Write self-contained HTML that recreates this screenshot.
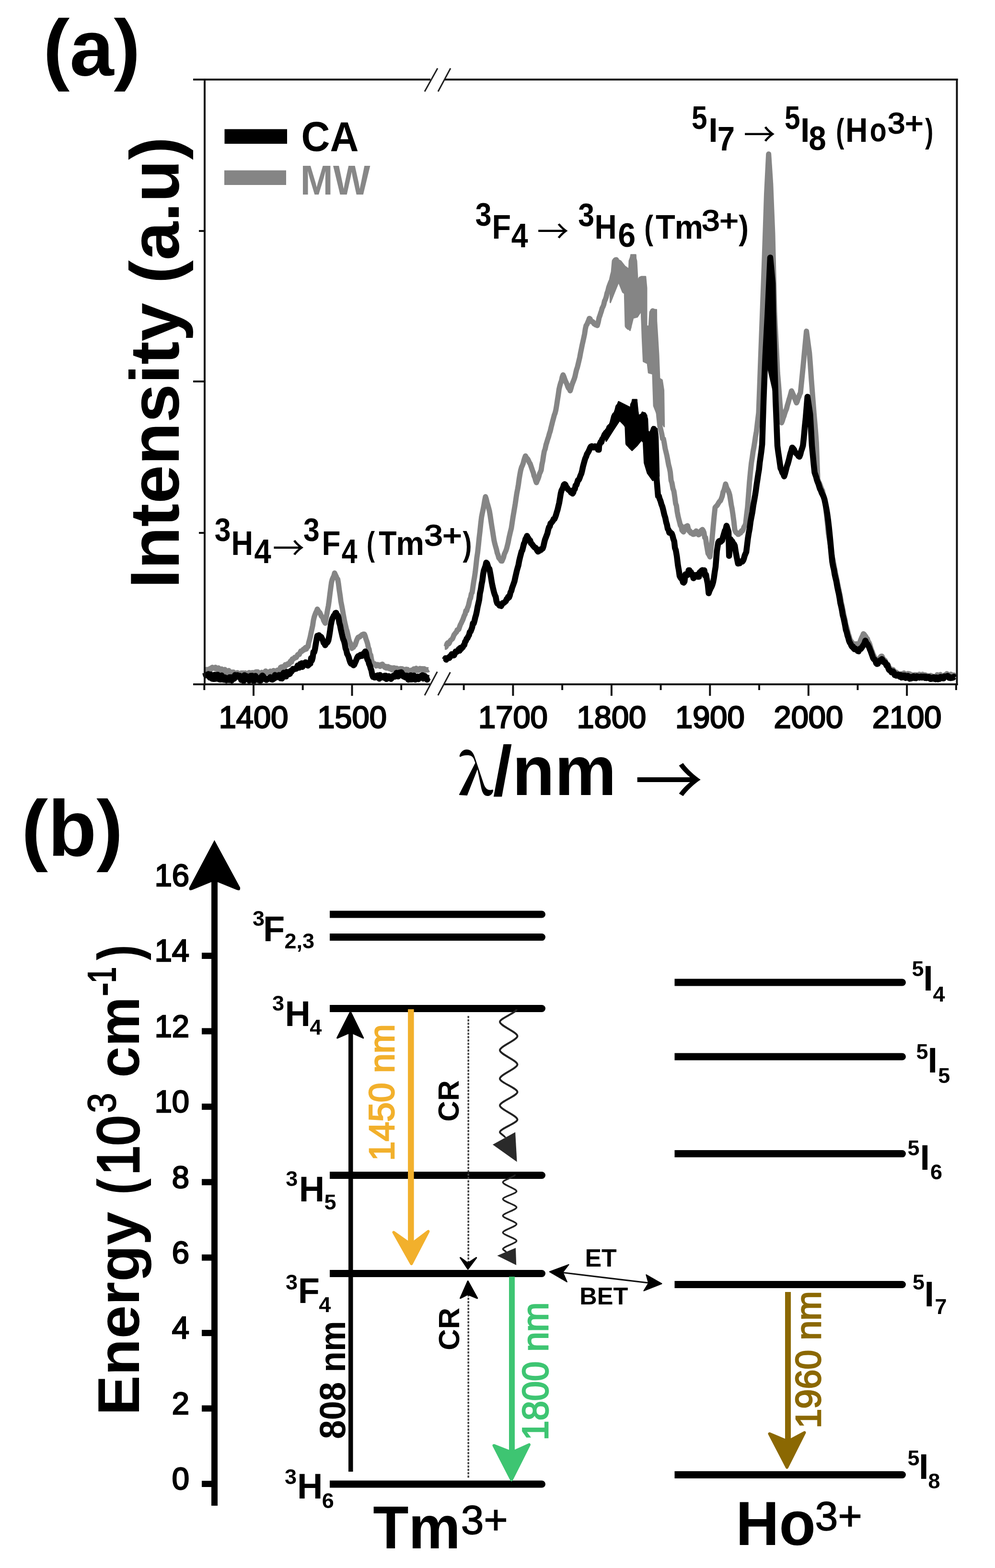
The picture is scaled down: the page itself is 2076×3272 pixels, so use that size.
<!DOCTYPE html>
<html><head><meta charset="utf-8"><title>Figure</title>
<style>
html,body{margin:0;padding:0;background:#fff;}
svg{display:block;}
text{font-family:'Liberation Sans', Arial, sans-serif;font-weight:bold;}
</style></head>
<body>
<svg width="2076" height="3272" viewBox="0 0 2076 3272">
<rect width="2076" height="3272" fill="#fff"/>
<path d="M428.2,1402.0 L429.8,1400.6 L431.5,1396.9 L433.1,1402.1 L434.7,1397.5 L436.4,1397.3 L438.0,1395.3 L439.6,1397.2 L441.3,1393.6 L442.9,1392.6 L444.5,1394.0 L446.2,1393.8 L447.8,1394.7 L449.5,1392.4 L451.1,1395.6 L452.7,1394.6 L454.4,1399.5 L456.0,1393.7 L457.6,1400.6 L459.3,1397.0 L460.9,1398.1 L462.5,1396.0 L464.2,1400.6 L465.8,1397.3 L467.4,1398.8 L469.1,1397.0 L470.7,1399.8 L472.4,1404.8 L474.0,1405.3 L475.6,1404.1 L477.3,1399.3 L478.9,1406.5 L480.5,1406.5 L482.2,1406.2 L483.8,1402.4 L485.4,1405.2 L487.1,1402.4 L488.7,1404.8 L490.4,1408.3 L492.0,1406.1 L493.6,1407.3 L495.3,1403.8 L496.9,1406.0 L498.5,1407.4 L500.2,1408.3 L501.8,1408.3 L503.4,1404.2 L505.1,1408.9 L506.7,1404.3 L508.4,1408.6 L510.0,1406.9 L511.6,1404.3 L513.3,1407.3 L514.9,1406.8 L516.5,1410.1 L518.2,1406.9 L519.8,1403.4 L521.4,1404.1 L523.1,1409.9 L524.7,1408.6 L526.3,1403.5 L528.0,1403.9 L529.6,1406.0 L531.3,1403.1 L532.9,1404.1 L534.5,1402.0 L536.2,1406.6 L537.8,1401.9 L539.4,1408.3 L541.1,1407.6 L542.7,1406.5 L544.3,1406.2 L546.0,1403.1 L547.6,1405.2 L549.3,1405.6 L550.9,1403.6 L552.5,1403.4 L554.2,1400.2 L555.8,1404.2 L557.4,1401.9 L559.1,1403.9 L560.7,1402.4 L562.3,1406.1 L564.0,1400.6 L565.6,1404.6 L567.3,1404.0 L568.9,1402.9 L570.5,1399.3 L572.2,1399.9 L573.8,1405.5 L575.4,1400.1 L577.1,1402.0 L578.7,1398.5 L580.3,1398.3 L582.0,1399.0 L583.6,1397.7 L585.2,1392.9 L586.9,1391.8 L588.5,1394.3 L590.2,1391.0 L591.8,1392.9 L593.4,1393.2 L595.1,1387.1 L596.7,1388.9 L598.3,1387.5 L600.0,1385.5 L601.6,1386.5 L603.2,1386.1 L604.9,1381.6 L606.5,1379.2 L608.2,1381.6 L609.8,1375.1 L611.4,1375.6 L613.1,1374.6 L614.7,1371.9 L616.3,1372.5 L618.0,1372.0 L619.6,1369.4 L621.2,1366.1 L622.9,1365.4 L624.5,1365.5 L626.2,1361.6 L627.8,1358.5 L629.4,1359.4 L631.1,1358.0 L632.7,1355.1 L634.3,1356.5 L636.0,1352.7 L637.6,1351.1 L639.2,1354.4 L640.9,1349.8 L642.5,1349.6 L644.1,1341.0 L645.8,1335.1 L647.4,1328.7 L649.1,1320.2 L650.7,1313.0 L652.3,1305.6 L654.0,1294.2 L655.6,1287.4 L657.2,1282.9 L658.9,1278.4 L660.5,1275.2 L662.1,1271.1 L663.8,1274.0 L665.4,1276.9 L667.1,1278.0 L668.7,1281.6 L670.3,1285.3 L672.0,1287.4 L673.6,1289.3 L675.2,1294.7 L676.9,1297.8 L678.5,1300.5 L680.1,1291.2 L681.8,1282.4 L683.4,1272.8 L685.1,1264.5 L686.7,1253.0 L688.3,1239.9 L690.0,1227.0 L691.6,1215.4 L693.2,1209.1 L694.9,1205.2 L696.5,1202.0 L698.1,1195.8 L699.8,1199.6 L701.4,1202.7 L703.0,1206.9 L704.7,1208.9 L706.3,1218.9 L708.0,1232.1 L709.6,1242.3 L711.2,1254.7 L712.9,1263.4 L714.5,1271.8 L716.1,1281.3 L717.8,1290.7 L719.4,1299.0 L721.0,1305.6 L722.7,1313.0 L724.3,1317.8 L726.0,1325.6 L727.6,1333.2 L729.2,1339.0 L730.9,1341.7 L732.5,1347.0 L734.1,1352.9 L735.8,1350.0 L737.4,1350.6 L739.0,1347.2 L740.7,1346.3 L742.3,1342.0 L744.0,1336.7 L745.6,1332.9 L747.2,1330.0 L748.9,1329.2 L750.5,1329.2 L752.1,1327.0 L753.8,1326.2 L755.4,1324.5 L757.0,1323.9 L758.7,1323.2 L760.3,1323.4 L762.0,1327.5 L763.6,1333.5 L765.2,1337.7 L766.9,1343.1 L768.5,1351.0 L770.1,1354.9 L771.8,1364.8 L773.4,1366.8 L775.0,1376.0 L776.7,1382.3 L778.3,1383.7 L779.9,1385.5 L781.6,1385.1 L783.2,1386.8 L784.9,1389.5 L786.5,1388.9 L788.1,1386.8 L789.8,1389.1 L791.4,1389.4 L793.0,1390.6 L794.7,1386.9 L796.3,1388.4 L797.9,1386.0 L799.6,1388.9 L801.2,1390.7 L802.9,1392.7 L804.5,1390.4 L806.1,1394.0 L807.8,1393.9 L809.4,1390.9 L811.0,1394.4 L812.7,1395.4 L814.3,1392.9 L815.9,1394.6 L817.6,1397.7 L819.2,1393.8 L820.9,1396.6 L822.5,1393.7 L824.1,1394.2 L825.8,1399.4 L827.4,1394.5 L829.0,1395.1 L830.7,1399.9 L832.3,1396.2 L833.9,1395.8 L835.6,1395.3 L837.2,1397.9 L838.8,1395.4 L840.5,1396.5 L842.1,1396.7 L843.8,1400.0 L845.4,1398.7 L847.0,1396.6 L848.7,1399.1 L850.3,1396.9 L851.9,1401.3 L853.6,1401.2 L855.2,1400.7 L856.8,1400.5 L858.5,1398.4 L860.1,1400.5 L861.8,1398.7 L863.4,1395.7 L865.0,1399.1 L866.7,1399.7 L868.3,1394.6 L869.9,1395.6 L871.6,1399.1 L873.2,1398.9 L874.8,1397.6 L876.5,1394.9 L878.1,1397.1 L879.8,1395.6 L881.4,1395.5 L883.0,1399.9 L884.7,1395.4 L886.3,1396.3 L887.9,1398.2 L889.6,1398.0 L891.2,1397.4 L892.8,1398.0 L894.5,1397.1" fill="none" stroke="#858585" stroke-width="11" stroke-linejoin="round" stroke-linecap="butt"/>
<path d="M927.8,1350.7 L929.5,1350.6 L931.1,1349.0 L932.7,1343.3 L934.4,1341.1 L936.0,1343.6 L937.6,1341.7 L939.3,1337.3 L940.9,1335.6 L942.5,1334.3 L944.2,1332.6 L945.8,1328.7 L947.4,1324.6 L949.1,1322.6 L950.7,1320.3 L952.4,1318.9 L954.0,1314.4 L955.6,1314.4 L957.3,1313.0 L958.9,1308.1 L960.5,1303.6 L962.2,1300.6 L963.8,1297.0 L965.4,1293.8 L967.1,1289.1 L968.7,1284.6 L970.4,1281.7 L972.0,1274.4 L973.6,1274.9 L975.3,1268.8 L976.9,1265.3 L978.5,1258.9 L980.2,1251.1 L981.8,1247.6 L983.4,1239.3 L985.1,1236.1 L986.7,1225.0 L988.4,1213.5 L990.0,1204.5 L991.6,1193.6 L993.3,1178.5 L994.9,1163.8 L996.5,1153.3 L998.2,1138.0 L999.8,1122.0 L1001.4,1108.7 L1003.1,1092.2 L1004.7,1079.1 L1006.3,1070.8 L1008.0,1063.0 L1009.6,1054.4 L1011.3,1044.5 L1012.9,1036.5 L1014.5,1041.2 L1016.2,1048.6 L1017.8,1053.6 L1019.4,1059.4 L1021.1,1066.0 L1022.7,1075.4 L1024.3,1086.4 L1026.0,1097.6 L1027.6,1107.1 L1029.3,1118.2 L1030.9,1128.1 L1032.5,1134.9 L1034.2,1141.1 L1035.8,1146.4 L1037.4,1153.7 L1039.1,1158.1 L1040.7,1164.1 L1042.3,1165.9 L1044.0,1167.9 L1045.6,1170.6 L1047.3,1170.7 L1048.9,1167.0 L1050.5,1163.3 L1052.2,1156.5 L1053.8,1153.0 L1055.4,1149.5 L1057.1,1144.5 L1058.7,1138.2 L1060.3,1131.4 L1062.0,1122.5 L1063.6,1115.6 L1065.2,1108.8 L1066.9,1102.0 L1068.5,1091.3 L1070.2,1079.9 L1071.8,1070.5 L1073.4,1061.0 L1075.1,1050.9 L1076.7,1039.8 L1078.3,1029.1 L1080.0,1020.5 L1081.6,1011.1 L1083.2,999.4 L1084.9,989.2 L1086.5,980.9 L1088.2,974.9 L1089.8,971.6 L1091.4,967.5 L1093.1,960.9 L1094.7,955.7 L1096.3,951.4 L1098.0,954.6 L1099.6,956.3 L1101.2,958.1 L1102.9,961.5 L1104.5,965.4 L1106.2,967.8 L1107.8,972.6 L1109.4,977.1 L1111.1,982.2 L1112.7,986.3 L1114.3,993.2 L1116.0,996.8 L1117.6,1002.8 L1119.2,1007.1 L1120.9,1002.9 L1122.5,999.6 L1124.1,994.9 L1125.8,988.4 L1127.4,985.1 L1129.1,980.9 L1130.7,969.5 L1132.3,962.1 L1134.0,950.6 L1135.6,941.6 L1137.4,936.9 L1139.2,928.3 L1140.9,923.0 L1142.7,916.8 L1144.5,911.6 L1146.3,904.7 L1148.1,899.4 L1149.8,892.0 L1151.5,885.3 L1153.2,878.5 L1154.8,872.7 L1156.5,866.1 L1158.1,862.2 L1159.8,855.4 L1161.5,845.2 L1163.1,834.6 L1164.8,823.9 L1166.4,812.2 L1168.1,805.0 L1169.8,798.9 L1171.4,794.8 L1173.1,786.7 L1174.8,782.3 L1176.4,785.8 L1178.1,790.6 L1179.7,794.8 L1181.4,798.6 L1183.1,802.3 L1184.7,807.0 L1186.4,810.4 L1188.0,811.6 L1189.7,815.5 L1191.4,810.0 L1193.0,804.0 L1194.7,799.4 L1196.3,795.4 L1198.0,791.1 L1199.7,785.6 L1201.3,778.2 L1203.0,771.1 L1204.7,766.3 L1206.3,759.6 L1208.0,752.4 L1209.6,745.8 L1211.3,736.3 L1213.0,728.2 L1214.6,720.1 L1216.3,712.6 L1217.9,705.4 L1219.6,697.3 L1221.3,686.2 L1222.9,679.3 L1224.6,677.0 L1226.2,673.2 L1227.9,669.1 L1229.6,664.4 L1231.2,665.5 L1232.9,669.8 L1234.6,671.2 L1236.2,671.0 L1237.9,672.6 L1239.5,676.0 L1241.2,676.5 L1242.9,677.9 L1244.5,677.0 L1246.2,679.3 L1248.1,672.6 L1250.0,663.0 L1251.6,658.8 L1253.2,653.6 L1254.9,648.7 L1256.5,642.7 L1258.1,640.0 L1259.8,635.3 L1261.4,628.2 L1263.0,625.0 L1264.8,619.7 L1266.5,612.0 L1268.2,607.6 L1270.0,600.0 L1272.0,594.5 L1274.0,589.1 L1276.0,585.0 L1278.0,575.5 L1280.0,568.0 L1282.0,545.0 L1284.0,542.4 L1286.0,542.0 L1289.0,562.0 L1290.7,560.3 L1292.3,561.8 L1294.0,565.0 L1296.0,571.3 L1298.0,578.0 L1299.7,582.3 L1301.3,586.4 L1303.0,590.0 L1305.0,593.6 L1307.0,602.0 L1309.0,680.0 L1312.0,683.0 L1315.0,610.0 L1317.0,545.0 L1320.0,537.0 L1322.0,538.0 L1324.0,545.0 L1327.0,600.0 L1329.0,610.2 L1331.0,625.0 L1333.0,617.6 L1335.0,605.0 L1337.0,582.0 L1340.0,590.0 L1342.0,640.0 L1345.0,700.0 L1348.0,690.0 L1351.0,725.0 L1354.0,748.0 L1357.0,700.0 L1360.0,652.0 L1362.0,648.7 L1364.0,650.0 L1367.0,690.0 L1370.0,740.0 L1372.0,790.0 L1373.0,850.0 L1375.0,871.8 L1377.0,890.0 L1378.8,897.5 L1380.6,905.0 L1382.4,915.2 L1384.2,915.7 L1386.0,925.0 L1387.8,935.9 L1389.6,943.2 L1391.4,950.7 L1393.2,960.1 L1395.0,970.0 L1396.8,976.6 L1398.5,985.2 L1400.2,1002.5 L1402.0,1008.0 L1404.0,1019.3 L1406.0,1024.8 L1408.0,1038.0 L1409.7,1050.9 L1411.3,1055.0 L1413.0,1068.0 L1414.7,1076.9 L1416.3,1083.5 L1418.0,1090.0 L1419.6,1096.8 L1421.2,1097.2 L1422.8,1106.4 L1424.4,1108.1 L1426.0,1110.0 L1427.7,1106.5 L1429.4,1100.4 L1431.1,1098.7 L1432.8,1098.0 L1434.5,1097.0 L1436.1,1103.2 L1437.8,1108.4 L1439.4,1108.0 L1441.0,1112.1 L1442.7,1112.8 L1444.3,1112.5 L1445.9,1115.0 L1447.6,1111.1 L1449.2,1114.4 L1450.8,1111.4 L1452.5,1108.0 L1454.1,1111.3 L1455.8,1112.1 L1457.4,1116.0 L1459.0,1115.0 L1460.6,1113.4 L1462.2,1107.7 L1463.9,1106.3 L1465.5,1105.0 L1467.2,1107.4 L1468.8,1111.5 L1470.4,1121.6 L1472.1,1122.0 L1473.8,1135.0 L1475.6,1145.1 L1477.3,1155.0 L1479.3,1158.0 L1481.3,1162.0 L1483.2,1146.0 L1485.2,1130.0 L1488.0,1099.0 L1490.0,1077.7 L1492.0,1059.0 L1493.8,1056.9 L1495.5,1055.3 L1497.3,1053.0 L1499.3,1049.3 L1501.2,1046.5 L1503.2,1044.8 L1505.2,1040.0 L1506.9,1035.3 L1508.7,1026.6 L1510.4,1023.4 L1512.2,1016.9 L1513.9,1010.0 L1515.6,1015.6 L1517.3,1020.2 L1519.1,1022.9 L1520.8,1027.2 L1522.5,1033.0 L1524.2,1043.5 L1525.8,1054.0 L1527.4,1061.7 L1529.1,1073.0 L1531.1,1087.9 L1533.1,1106.0 L1534.8,1109.7 L1536.4,1111.8 L1538.1,1112.0 L1539.8,1115.0 L1541.6,1114.7 L1543.5,1111.6 L1545.3,1111.9 L1547.2,1107.8 L1549.0,1108.0 L1550.7,1104.6 L1552.3,1099.6 L1554.0,1097.2 L1555.7,1093.0 L1557.7,1074.5 L1559.7,1059.0 L1561.7,1033.0 L1563.7,1006.0 L1565.7,984.7 L1567.7,966.0 L1569.5,954.8 L1571.2,942.6 L1573.0,933.0 L1574.8,921.6 L1576.5,909.9 L1578.3,900.0 L1580.6,880.1 L1582.9,861.4 L1585.0,805.9 L1587.0,751.2 L1589.1,695.3 L1591.2,640.3 L1593.3,584.6 L1595.3,529.2 L1597.4,468.0 L1599.5,404.6 L1601.6,362.8 L1603.7,321.5 L1605.7,351.8 L1607.8,383.8 L1609.9,436.2 L1612.0,487.6 L1614.0,570.4 L1616.1,653.8 L1618.2,696.3 L1620.3,736.5 L1622.3,778.3 L1624.0,797.9 L1625.7,819.5 L1627.3,841.7 L1629.0,861.3 L1630.6,882.2 L1632.4,878.1 L1634.1,872.2 L1635.8,867.9 L1637.6,861.8 L1639.3,857.2 L1641.0,853.1 L1642.8,845.9 L1644.5,840.4 L1646.2,834.0 L1648.0,828.3 L1649.7,822.3 L1651.4,815.7 L1653.1,819.2 L1654.9,823.5 L1656.6,827.0 L1658.3,831.4 L1660.1,836.2 L1661.8,840.6 L1663.5,837.4 L1665.1,831.6 L1666.8,828.0 L1668.4,822.9 L1670.1,819.9 L1672.2,799.3 L1674.3,778.1 L1676.3,757.6 L1678.4,735.0 L1680.5,713.0 L1682.6,691.1 L1684.6,705.8 L1686.7,721.4 L1688.8,736.8 L1690.9,763.7 L1692.9,792.7 L1695.0,819.9 L1696.7,841.7 L1698.3,862.4 L1700.0,881.8 L1701.7,901.8 L1703.3,923.7 L1706.1,1000.0 L1707.8,1004.7 L1709.5,1008.0 L1711.2,1012.3 L1712.8,1016.6 L1714.5,1021.0 L1716.2,1024.3 L1718.3,1034.5 L1720.3,1044.5 L1722.3,1054.8 L1724.3,1073.5 L1726.4,1092.9 L1728.4,1113.6 L1730.0,1122.5 L1731.6,1132.3 L1733.3,1143.9 L1734.9,1152.7 L1736.5,1162.3 L1738.2,1169.6 L1739.9,1178.8 L1741.6,1187.5 L1743.3,1196.9 L1745.0,1204.4 L1746.7,1213.0 L1748.4,1221.6 L1750.0,1229.2 L1751.7,1237.8 L1753.4,1245.5 L1755.1,1256.2 L1756.8,1263.7 L1758.4,1271.8 L1760.1,1280.7 L1761.7,1288.3 L1763.3,1294.9 L1764.9,1304.3 L1766.5,1309.3 L1768.2,1315.1 L1769.8,1322.3 L1771.4,1326.6 L1773.0,1332.7 L1774.7,1336.6 L1776.3,1338.5 L1777.9,1340.6 L1779.5,1342.6 L1781.2,1344.9 L1782.8,1345.5 L1784.5,1344.4 L1786.2,1343.6 L1787.9,1346.0 L1789.6,1344.8 L1791.3,1344.9 L1793.0,1342.6 L1794.7,1338.2 L1796.4,1334.0 L1798.1,1329.8 L1799.7,1326.9 L1801.4,1322.6 L1803.1,1323.8 L1804.7,1326.2 L1806.3,1328.1 L1807.9,1331.7 L1809.6,1332.7 L1811.3,1338.8 L1813.0,1340.7 L1814.8,1345.1 L1816.5,1350.8 L1818.3,1356.5 L1820.0,1360.3 L1821.7,1365.2 L1823.4,1368.9 L1825.0,1372.4 L1826.6,1374.2 L1828.2,1377.1 L1829.8,1379.4 L1831.5,1376.6 L1833.2,1376.3 L1834.9,1374.7 L1836.6,1371.6 L1838.3,1369.4 L1840.0,1369.2 L1841.6,1372.2 L1843.2,1375.7 L1844.9,1377.0 L1846.5,1378.0 L1848.1,1381.4 L1849.8,1385.0 L1851.5,1385.3 L1853.2,1387.8 L1854.9,1392.4 L1856.6,1394.7 L1858.2,1395.6 L1859.9,1399.0 L1861.6,1400.2 L1863.3,1397.3 L1865.0,1399.7 L1866.7,1402.8 L1868.4,1403.7 L1870.2,1402.7 L1871.9,1405.9 L1873.7,1405.6 L1875.5,1406.0 L1877.3,1407.1 L1879.0,1406.3 L1880.8,1407.7 L1882.6,1405.8 L1884.3,1405.9 L1886.0,1404.5 L1887.7,1406.6 L1889.4,1408.9 L1891.0,1407.6 L1892.7,1406.4 L1894.4,1405.6 L1896.1,1406.0 L1897.8,1406.2 L1899.5,1409.3 L1901.2,1407.7 L1902.9,1408.8 L1904.6,1408.5 L1906.3,1411.1 L1908.0,1408.0 L1909.6,1409.5 L1911.3,1408.1 L1913.0,1408.3 L1914.7,1408.5 L1916.4,1408.5 L1918.1,1407.0 L1919.8,1409.5 L1921.5,1409.1 L1923.2,1408.8 L1924.9,1407.1 L1926.6,1411.4 L1928.2,1411.6 L1929.9,1408.4 L1931.6,1408.9 L1933.3,1411.2 L1935.0,1410.0 L1936.7,1410.5 L1938.4,1411.6 L1940.1,1411.7 L1941.8,1409.5 L1943.5,1410.8 L1945.1,1410.7 L1946.8,1412.2 L1948.5,1412.4 L1950.2,1412.3 L1951.9,1411.8 L1953.6,1411.1 L1955.3,1408.0 L1957.0,1409.5 L1958.7,1411.1 L1960.4,1408.8 L1962.1,1407.8 L1963.7,1409.8 L1965.4,1409.9 L1967.1,1410.4 L1968.8,1411.2 L1970.5,1409.6 L1972.2,1407.9 L1973.9,1407.8 L1975.5,1405.7 L1977.2,1409.0 L1978.9,1410.2 L1980.5,1408.6 L1982.2,1409.0 L1983.8,1406.9 L1985.5,1408.2 L1987.2,1409.7 L1988.8,1410.9 L1990.5,1408.8 L1992.1,1409.8" fill="none" stroke="#858585" stroke-width="11" stroke-linejoin="round" stroke-linecap="butt"/>
<polygon points="1273.4,579.3 1282.0,572.8 1286.4,540.4 1295.0,544.8 1303.6,555.6 1312.3,562.0 1316.6,531.8 1326.3,531.8 1328.5,600.9 1336.0,600.9 1338.2,577.2 1346.8,577.2 1349.0,600.9 1349.0,680.8 1356.5,680.8 1358.7,646.2 1369.5,646.2 1370.6,786.6 1381.3,793.0 1384.6,814.6 1385.7,890.2 1385.7,890.2 1372.7,868.6 1364.1,847.0 1361.9,780.1 1353.3,777.9 1351.1,758.5 1342.5,754.2 1340.3,706.7 1338.2,648.4 1329.5,661.3 1320.9,663.5 1314.4,689.4 1307.9,674.3 1305.8,613.9 1299.3,609.5 1290.7,587.9 1282.0,609.5 1273.4,631.1" fill="#858585" stroke="#858585" stroke-width="3" stroke-linejoin="round"/>
<polygon points="1589.1,695.3 1595.3,529.2 1599.5,404.6 1603.7,321.5 1607.8,383.8 1612.0,487.6 1616.1,653.8" fill="#858585" stroke="#858585" stroke-width="3" stroke-linejoin="round"/>
<path d="M428.2,1403.6 L429.8,1409.2 L431.5,1407.9 L433.1,1409.2 L434.7,1406.6 L436.4,1411.8 L438.0,1414.1 L439.6,1407.4 L441.3,1410.8 L442.9,1416.4 L444.5,1416.2 L446.2,1417.1 L447.8,1408.1 L449.5,1416.6 L451.1,1411.4 L452.7,1411.8 L454.4,1407.9 L456.0,1416.9 L457.6,1417.7 L459.3,1418.1 L460.9,1410.9 L462.5,1409.5 L464.2,1418.0 L465.8,1415.6 L467.4,1418.4 L469.1,1413.4 L470.7,1416.3 L472.4,1419.4 L474.0,1416.5 L475.6,1417.6 L477.3,1419.0 L478.9,1413.2 L480.5,1419.1 L482.2,1413.2 L483.8,1419.8 L485.4,1414.4 L487.1,1414.9 L488.7,1416.2 L490.4,1408.6 L492.0,1412.6 L493.6,1411.9 L495.3,1408.7 L496.9,1412.4 L498.5,1411.7 L500.2,1410.0 L501.8,1411.8 L503.4,1419.1 L505.1,1411.4 L506.7,1417.2 L508.4,1420.8 L510.0,1409.0 L511.6,1417.5 L513.3,1410.6 L514.9,1411.2 L516.5,1412.7 L518.2,1415.1 L519.8,1420.1 L521.4,1419.6 L523.1,1410.2 L524.7,1418.5 L526.3,1410.1 L528.0,1413.4 L529.6,1421.0 L531.3,1419.6 L532.9,1410.4 L534.5,1415.9 L536.2,1414.1 L537.8,1417.2 L539.4,1419.4 L541.1,1415.7 L542.7,1420.2 L544.3,1419.8 L546.0,1411.0 L547.6,1409.7 L549.3,1411.4 L550.9,1415.1 L552.5,1415.0 L554.2,1417.2 L555.8,1419.0 L557.4,1417.4 L559.1,1416.4 L560.7,1415.7 L562.3,1416.2 L564.0,1413.0 L565.6,1416.1 L567.3,1418.1 L568.9,1418.2 L570.5,1416.4 L572.2,1415.8 L573.8,1408.5 L575.4,1411.5 L577.1,1413.4 L578.7,1412.5 L580.3,1410.3 L582.0,1408.6 L583.6,1410.3 L585.2,1415.4 L586.9,1408.2 L588.5,1415.8 L590.2,1410.1 L591.8,1403.8 L593.4,1408.4 L595.1,1411.6 L596.7,1411.6 L598.3,1402.2 L600.0,1403.1 L601.6,1403.0 L603.2,1406.9 L604.9,1406.1 L606.5,1400.0 L608.2,1401.5 L609.8,1399.0 L611.4,1395.7 L613.1,1397.0 L614.7,1396.2 L616.3,1395.4 L618.0,1395.4 L619.6,1392.2 L621.2,1388.7 L622.9,1390.4 L624.5,1393.3 L626.2,1385.5 L627.8,1389.9 L629.4,1384.1 L631.1,1391.7 L632.7,1387.2 L634.3,1383.8 L636.0,1386.8 L637.6,1381.9 L639.2,1386.1 L640.9,1388.1 L642.5,1388.9 L644.1,1387.3 L645.8,1384.0 L647.4,1385.0 L649.1,1373.3 L650.7,1378.4 L652.3,1372.5 L654.0,1360.4 L655.6,1360.9 L657.2,1354.6 L658.9,1344.1 L660.5,1334.9 L662.1,1326.7 L663.8,1328.3 L665.4,1325.5 L667.1,1329.7 L668.7,1328.3 L670.3,1329.3 L672.0,1333.0 L673.6,1336.2 L675.2,1341.3 L676.9,1342.8 L678.5,1346.3 L680.1,1343.3 L681.8,1341.4 L683.4,1340.2 L685.1,1336.5 L686.7,1328.4 L688.3,1318.6 L690.0,1306.0 L691.6,1297.3 L693.2,1291.4 L694.9,1288.0 L696.5,1284.5 L698.1,1284.1 L699.8,1279.3 L701.4,1278.8 L703.0,1283.8 L704.7,1284.2 L706.3,1289.0 L708.0,1299.8 L709.6,1305.0 L711.2,1313.6 L712.9,1320.9 L714.5,1328.0 L716.1,1334.0 L717.8,1337.7 L719.4,1343.9 L721.0,1352.9 L722.7,1357.2 L724.3,1364.7 L726.0,1367.4 L727.6,1371.3 L729.2,1377.3 L730.9,1382.3 L732.5,1384.9 L734.1,1382.8 L735.8,1383.4 L737.4,1388.3 L739.0,1387.2 L740.7,1383.3 L742.3,1379.8 L744.0,1375.5 L745.6,1371.6 L747.2,1369.2 L748.9,1370.5 L750.5,1369.7 L752.1,1366.4 L753.8,1368.2 L755.4,1368.6 L757.0,1366.0 L758.7,1363.4 L760.3,1364.0 L762.0,1359.4 L763.6,1362.6 L765.2,1371.6 L766.9,1376.9 L768.5,1379.1 L770.1,1385.6 L771.8,1389.1 L773.4,1394.8 L775.0,1399.1 L776.7,1408.5 L778.3,1412.4 L779.9,1412.1 L781.6,1413.8 L783.2,1413.2 L784.9,1410.2 L786.5,1413.4 L788.1,1409.3 L789.8,1411.0 L791.4,1416.3 L793.0,1408.6 L794.7,1413.8 L796.3,1411.6 L797.9,1411.3 L799.6,1411.8 L801.2,1414.3 L802.9,1410.1 L804.5,1410.0 L806.1,1416.9 L807.8,1416.0 L809.4,1412.0 L811.0,1410.9 L812.7,1413.4 L814.3,1413.8 L815.9,1416.7 L817.6,1414.8 L819.2,1410.8 L820.9,1412.2 L822.5,1408.9 L824.1,1411.9 L825.8,1409.5 L827.4,1404.1 L829.0,1410.0 L830.7,1411.5 L832.3,1407.1 L833.9,1403.4 L835.6,1404.3 L837.2,1402.7 L838.8,1405.2 L840.5,1410.7 L842.1,1411.7 L843.8,1409.3 L845.4,1413.4 L847.0,1411.4 L848.7,1409.7 L850.3,1412.8 L851.9,1418.2 L853.6,1416.0 L855.2,1417.8 L856.8,1409.2 L858.5,1417.7 L860.1,1417.5 L861.8,1416.5 L863.4,1409.7 L865.0,1417.1 L866.7,1418.2 L868.3,1415.8 L869.9,1413.6 L871.6,1411.8 L873.2,1417.2 L874.8,1414.4 L876.5,1411.6 L878.1,1413.4 L879.8,1409.4 L881.4,1408.9 L883.0,1415.9 L884.7,1412.0 L886.3,1410.6 L887.9,1412.5 L889.6,1414.2 L891.2,1418.2 L892.8,1414.6 L894.5,1415.1" fill="none" stroke="#000" stroke-width="12.5" stroke-linejoin="round" stroke-linecap="butt"/>
<path d="M927.8,1376.8 L929.5,1373.5 L931.1,1376.6 L932.7,1373.6 L934.4,1373.6 L936.0,1371.9 L937.6,1373.0 L939.3,1369.1 L940.9,1368.0 L942.5,1365.0 L944.2,1367.9 L945.8,1366.4 L947.4,1367.4 L949.1,1363.7 L950.7,1359.5 L952.4,1360.6 L954.0,1359.4 L955.6,1358.0 L957.3,1354.5 L958.9,1357.8 L960.5,1351.8 L962.2,1354.1 L963.8,1350.8 L965.4,1350.7 L967.1,1346.9 L968.7,1346.1 L970.4,1339.1 L972.0,1337.6 L973.6,1332.9 L975.3,1331.7 L976.9,1328.0 L978.5,1325.5 L980.2,1318.8 L981.8,1317.9 L983.4,1313.8 L985.1,1309.1 L986.7,1300.6 L988.4,1301.1 L990.0,1295.5 L991.6,1288.5 L993.3,1282.9 L994.9,1275.5 L996.5,1266.4 L998.2,1259.0 L999.8,1251.7 L1001.4,1238.0 L1003.1,1230.6 L1004.7,1219.8 L1006.3,1211.9 L1008.0,1198.4 L1009.6,1190.3 L1011.3,1185.5 L1012.9,1181.3 L1014.5,1174.0 L1016.2,1175.8 L1017.8,1180.7 L1019.4,1185.4 L1021.1,1187.0 L1022.7,1195.1 L1024.3,1203.9 L1026.0,1214.9 L1027.6,1223.0 L1029.3,1230.2 L1030.9,1236.8 L1032.5,1241.6 L1034.2,1245.2 L1035.8,1254.3 L1037.4,1259.0 L1039.1,1259.4 L1040.7,1261.7 L1042.3,1263.6 L1044.0,1263.9 L1045.6,1264.5 L1047.3,1261.4 L1048.9,1258.4 L1050.5,1258.5 L1052.2,1257.3 L1053.8,1255.8 L1055.4,1254.6 L1057.1,1250.2 L1058.7,1249.4 L1060.3,1245.2 L1062.0,1246.8 L1063.6,1242.7 L1065.2,1235.9 L1066.9,1233.0 L1068.5,1226.6 L1070.2,1222.1 L1071.8,1217.7 L1073.4,1213.2 L1075.1,1205.1 L1076.7,1198.1 L1078.3,1191.2 L1080.0,1184.9 L1081.6,1179.6 L1083.2,1170.7 L1084.9,1163.5 L1086.5,1157.4 L1088.2,1150.9 L1089.8,1148.3 L1091.4,1141.8 L1093.1,1134.7 L1094.7,1131.9 L1096.3,1125.1 L1098.0,1122.2 L1099.6,1118.3 L1101.2,1121.7 L1102.9,1123.9 L1104.5,1127.4 L1106.2,1128.0 L1107.8,1133.6 L1109.4,1134.7 L1111.1,1137.1 L1112.7,1139.2 L1114.3,1141.2 L1116.0,1142.6 L1117.6,1143.0 L1119.2,1145.6 L1120.9,1148.9 L1122.5,1151.0 L1124.1,1148.3 L1125.8,1149.2 L1127.4,1146.5 L1129.1,1147.4 L1130.7,1145.2 L1132.3,1144.5 L1134.0,1139.4 L1135.6,1132.1 L1137.2,1125.8 L1138.9,1121.6 L1140.5,1117.3 L1142.1,1113.1 L1143.8,1105.7 L1145.4,1100.1 L1147.1,1098.5 L1148.7,1092.1 L1150.3,1091.0 L1152.0,1088.9 L1153.6,1086.8 L1155.2,1083.1 L1156.9,1083.0 L1158.5,1079.1 L1160.1,1074.6 L1161.8,1068.6 L1163.4,1063.6 L1165.1,1056.2 L1166.7,1049.6 L1168.3,1040.1 L1170.0,1029.8 L1171.6,1023.4 L1173.2,1020.5 L1174.9,1016.9 L1176.5,1011.7 L1178.1,1010.3 L1179.8,1011.8 L1181.4,1016.0 L1183.0,1017.4 L1184.7,1020.8 L1186.3,1022.3 L1188.0,1023.4 L1189.6,1023.8 L1191.2,1027.6 L1192.9,1026.5 L1194.5,1030.0 L1196.1,1027.6 L1197.8,1021.5 L1199.4,1020.4 L1201.0,1012.9 L1202.7,1011.9 L1204.3,1007.1 L1206.0,1001.7 L1207.8,1001.0 L1209.5,997.1 L1211.2,992.1 L1213.0,988.3 L1214.6,981.9 L1216.3,973.9 L1217.9,967.8 L1219.6,961.7 L1221.3,956.2 L1222.9,953.0 L1224.6,947.8 L1226.2,945.1 L1227.9,942.3 L1229.6,938.4 L1231.2,934.6 L1232.9,931.8 L1234.6,931.2 L1236.2,933.6 L1237.9,933.6 L1239.5,933.7 L1241.2,931.3 L1242.9,931.8 L1244.5,931.8 L1246.2,933.8 L1247.8,938.3 L1249.5,938.5 L1250.0,930.0 L1251.6,926.3 L1253.2,922.3 L1254.9,922.4 L1256.5,916.4 L1258.1,914.6 L1259.8,910.9 L1261.4,906.7 L1263.0,905.0 L1264.6,902.4 L1266.2,901.9 L1267.9,898.8 L1269.5,897.9 L1271.1,892.4 L1272.8,890.7 L1274.4,889.9 L1276.0,888.0 L1277.8,883.1 L1279.5,876.6 L1281.2,869.7 L1283.0,866.0 L1284.8,864.9 L1286.6,861.6 L1288.4,856.4 L1290.2,848.7 L1292.0,848.0 L1293.7,851.3 L1295.3,851.5 L1297.0,852.0 L1298.7,855.9 L1300.3,857.9 L1302.0,858.0 L1303.8,862.8 L1305.5,865.6 L1307.2,873.4 L1309.0,875.0 L1311.0,925.0 L1314.0,928.0 L1316.0,909.9 L1318.0,885.0 L1321.0,845.0 L1324.0,840.0 L1326.0,858.0 L1329.0,880.0 L1331.0,890.3 L1333.0,891.8 L1335.0,900.0 L1336.7,892.7 L1338.3,887.5 L1340.0,885.0 L1343.0,866.0 L1346.0,875.0 L1348.0,920.0 L1350.0,960.0 L1352.0,965.4 L1354.0,968.0 L1357.0,968.0 L1360.0,925.0 L1362.0,913.7 L1364.0,895.0 L1367.0,905.0 L1368.0,960.0 L1370.0,1000.0 L1373.0,1035.0 L1374.7,1035.2 L1376.3,1041.1 L1378.0,1045.0 L1380.0,1052.2 L1382.0,1057.3 L1384.0,1065.0 L1386.0,1073.9 L1388.0,1080.1 L1390.0,1090.0 L1391.6,1095.0 L1393.2,1103.7 L1394.8,1105.2 L1396.4,1111.6 L1398.0,1110.0 L1399.8,1112.8 L1401.5,1113.3 L1403.2,1117.7 L1405.0,1125.0 L1406.7,1129.4 L1408.3,1143.6 L1410.0,1148.0 L1412.2,1160.7 L1414.5,1180.0 L1416.2,1189.1 L1418.0,1201.8 L1419.7,1205.0 L1421.5,1207.4 L1423.2,1208.5 L1425.0,1215.0 L1426.6,1215.9 L1428.2,1213.2 L1429.9,1198.6 L1431.5,1200.0 L1433.3,1200.5 L1435.0,1199.0 L1436.8,1190.0 L1438.4,1190.1 L1440.0,1193.3 L1441.7,1193.8 L1443.3,1200.0 L1445.0,1198.3 L1446.8,1206.6 L1448.5,1205.0 L1450.2,1203.1 L1451.8,1200.2 L1453.4,1199.6 L1455.1,1200.0 L1456.7,1203.6 L1458.3,1203.5 L1460.0,1194.1 L1461.6,1195.0 L1463.6,1191.0 L1465.5,1189.7 L1467.5,1194.7 L1469.5,1190.0 L1471.2,1201.2 L1473.0,1199.0 L1474.7,1209.0 L1476.7,1218.8 L1478.6,1238.0 L1480.6,1232.3 L1482.6,1228.0 L1484.3,1225.0 L1486.1,1220.7 L1487.8,1215.0 L1489.5,1206.1 L1491.3,1193.3 L1493.0,1183.0 L1495.7,1150.0 L1498.6,1132.0 L1500.2,1129.4 L1501.8,1128.6 L1503.4,1130.8 L1505.0,1128.3 L1506.6,1128.0 L1508.5,1120.5 L1510.3,1114.7 L1512.2,1107.8 L1514.0,1104.9 L1515.9,1097.0 L1518.0,1103.2 L1520.0,1110.0 L1521.2,1160.0 L1524.0,1125.0 L1525.8,1127.8 L1527.6,1129.4 L1529.5,1133.5 L1531.3,1135.2 L1533.1,1139.0 L1534.8,1150.0 L1536.4,1159.0 L1538.1,1167.6 L1539.8,1176.0 L1541.6,1175.5 L1543.5,1175.3 L1545.3,1171.9 L1547.2,1172.2 L1549.0,1172.0 L1550.6,1169.5 L1552.2,1165.2 L1553.8,1159.3 L1555.4,1155.5 L1557.0,1152.0 L1558.8,1137.2 L1560.5,1123.3 L1562.3,1112.0 L1564.1,1102.8 L1565.9,1088.7 L1567.7,1079.0 L1569.7,1068.7 L1571.7,1054.7 L1573.6,1044.3 L1575.6,1033.0 L1577.2,1022.6 L1578.8,1010.5 L1580.4,1000.3 L1582.0,989.2 L1583.6,980.0 L1585.2,964.8 L1586.9,953.0 L1588.5,941.6 L1590.2,927.0 L1593.1,837.0 L1594.9,789.1 L1596.8,743.5 L1599.2,698.4 L1601.6,653.8 L1603.4,614.7 L1605.2,576.3 L1607.0,537.5 L1608.7,554.6 L1610.3,572.1 L1612.0,591.5 L1613.0,650.0 L1615.5,743.5 L1618.3,837.0 L1620.2,883.0 L1622.0,930.0 L1623.7,943.2 L1625.3,953.7 L1626.9,965.1 L1628.6,977.0 L1630.5,980.6 L1632.3,986.2 L1634.2,988.7 L1636.1,994.0 L1638.0,987.8 L1639.8,981.0 L1641.7,973.2 L1643.6,968.0 L1645.5,961.2 L1647.3,953.9 L1649.2,946.1 L1651.0,940.6 L1652.9,934.0 L1654.8,935.9 L1656.7,938.3 L1658.5,942.8 L1660.4,945.0 L1662.3,947.2 L1664.2,948.7 L1666.0,951.6 L1667.9,953.0 L1669.8,948.4 L1671.6,941.1 L1673.5,935.8 L1675.3,930.0 L1677.2,912.5 L1679.0,892.0 L1680.9,874.0 L1682.8,850.9 L1684.7,828.0 L1686.6,840.3 L1688.4,852.2 L1690.3,865.0 L1692.2,897.7 L1694.0,930.0 L1695.9,949.5 L1697.7,968.4 L1699.6,986.0 L1701.2,990.6 L1702.8,995.1 L1704.4,1001.4 L1706.0,1006.0 L1707.6,1009.6 L1709.2,1015.0 L1710.8,1020.0 L1712.7,1023.6 L1714.6,1028.9 L1716.4,1032.3 L1718.3,1036.3 L1720.2,1042.0 L1722.1,1051.0 L1723.9,1060.1 L1725.8,1071.0 L1727.7,1084.9 L1729.5,1100.0 L1731.3,1117.6 L1733.0,1135.7 L1734.8,1155.6 L1736.5,1172.4 L1738.2,1181.7 L1739.9,1188.6 L1741.6,1199.0 L1743.3,1206.2 L1745.0,1213.3 L1746.7,1223.2 L1748.4,1231.5 L1750.0,1238.4 L1751.7,1247.6 L1753.4,1258.8 L1755.1,1265.6 L1756.8,1273.9 L1758.4,1283.9 L1760.1,1289.9 L1761.7,1297.6 L1763.3,1305.3 L1764.9,1314.5 L1766.5,1318.7 L1768.2,1326.1 L1769.8,1330.7 L1771.4,1337.0 L1773.0,1340.8 L1774.7,1343.2 L1776.3,1347.2 L1777.9,1349.7 L1779.5,1348.9 L1781.2,1353.0 L1782.8,1354.7 L1784.5,1353.3 L1786.2,1355.5 L1787.9,1355.6 L1789.6,1358.6 L1791.3,1359.1 L1792.9,1355.6 L1794.5,1353.4 L1796.2,1354.0 L1797.8,1351.7 L1799.4,1349.0 L1801.4,1346.3 L1803.5,1342.5 L1805.5,1336.8 L1807.1,1340.5 L1808.7,1343.8 L1810.4,1344.5 L1812.0,1348.0 L1813.6,1351.0 L1815.2,1355.6 L1816.9,1359.5 L1818.5,1364.2 L1820.1,1368.8 L1821.7,1373.3 L1823.4,1375.8 L1825.0,1376.3 L1826.6,1379.2 L1828.2,1384.1 L1829.8,1385.5 L1831.5,1385.2 L1833.2,1380.9 L1834.9,1378.9 L1836.6,1377.6 L1838.3,1378.5 L1840.0,1375.3 L1841.6,1377.1 L1843.2,1381.3 L1844.9,1381.4 L1846.5,1381.9 L1848.1,1385.5 L1849.8,1388.9 L1851.5,1387.9 L1853.2,1393.8 L1854.9,1397.9 L1856.6,1398.8 L1858.2,1399.7 L1859.9,1402.9 L1861.6,1401.9 L1863.3,1401.1 L1865.0,1403.4 L1866.7,1408.6 L1868.4,1407.8 L1870.2,1410.0 L1871.9,1409.3 L1873.7,1407.5 L1875.5,1409.7 L1877.3,1412.2 L1879.0,1408.5 L1880.8,1413.8 L1882.6,1411.8 L1884.3,1409.5 L1886.0,1413.5 L1887.7,1409.5 L1889.4,1414.7 L1891.0,1411.6 L1892.7,1413.2 L1894.4,1410.3 L1896.1,1414.2 L1897.8,1416.4 L1899.5,1412.4 L1901.2,1415.7 L1902.9,1413.9 L1904.6,1411.8 L1906.3,1411.1 L1908.0,1414.9 L1909.6,1412.5 L1911.3,1415.2 L1913.0,1411.3 L1914.7,1411.7 L1916.4,1412.8 L1918.1,1414.0 L1919.8,1412.3 L1921.5,1411.6 L1923.2,1413.9 L1924.9,1411.7 L1926.6,1413.4 L1928.2,1411.8 L1929.9,1414.8 L1931.6,1411.9 L1933.3,1415.0 L1935.0,1414.0 L1936.7,1412.5 L1938.4,1412.5 L1940.1,1416.1 L1941.8,1417.0 L1943.5,1415.9 L1945.1,1413.9 L1946.8,1416.2 L1948.5,1413.2 L1950.2,1415.4 L1951.9,1417.4 L1953.6,1413.5 L1955.3,1415.1 L1957.0,1417.6 L1958.7,1413.8 L1960.4,1416.8 L1962.1,1412.4 L1963.7,1414.9 L1965.4,1413.0 L1967.1,1415.5 L1968.8,1415.6 L1970.5,1411.6 L1972.2,1411.8 L1973.9,1411.8 L1975.5,1411.0 L1977.2,1410.4 L1978.9,1411.4 L1980.5,1414.6 L1982.2,1413.2 L1983.8,1415.0 L1985.5,1413.6 L1987.2,1414.4 L1988.8,1413.8 L1990.5,1412.0 L1992.1,1413.9" fill="none" stroke="#000" stroke-width="12.5" stroke-linejoin="round" stroke-linecap="butt"/>
<polygon points="1264.8,901.0 1277.7,872.9 1290.7,838.4 1303.6,844.8 1316.6,851.3 1319.8,834.1 1328.5,834.1 1329.5,868.6 1338.2,864.3 1340.3,860.0 1349.0,866.4 1351.1,898.8 1355.4,903.1 1361.9,890.2 1370.6,894.5 1372.7,911.8 1374.9,993.8 1374.9,993.8 1361.9,1002.5 1351.1,987.3 1344.6,965.7 1342.5,922.6 1338.2,918.3 1329.5,929.1 1318.7,939.8 1312.3,933.4 1307.9,894.5 1301.5,885.9 1292.8,877.2 1279.9,896.7 1264.8,920.4" fill="#000" stroke="#000" stroke-width="3" stroke-linejoin="round"/>
<polygon points="1596.8,743.5 1601.6,653.8 1607.0,537.5 1612.0,591.5 1613.0,650.0 1615.5,743.5 1618.3,837.0" fill="#000" stroke="#000" stroke-width="3" stroke-linejoin="round"/>
<text x="90.0" y="157.0" font-size="166">(a)</text>
<line x1="427" y1="164" x2="427" y2="1430" stroke="#111" stroke-width="4" />
<line x1="1996.5" y1="164" x2="1996.5" y2="1430" stroke="#111" stroke-width="4" />
<line x1="403" y1="166" x2="898" y2="166" stroke="#111" stroke-width="4" />
<line x1="928" y1="166" x2="1998.5" y2="166" stroke="#111" stroke-width="4" />
<line x1="403" y1="1428" x2="898.6" y2="1428" stroke="#111" stroke-width="4" />
<line x1="927" y1="1428" x2="1998.5" y2="1428" stroke="#111" stroke-width="4" />
<line x1="403" y1="796" x2="427" y2="796" stroke="#111" stroke-width="4" />
<line x1="415" y1="482" x2="427" y2="482" stroke="#111" stroke-width="4" />
<line x1="415" y1="1112" x2="427" y2="1112" stroke="#111" stroke-width="4" />
<line x1="529.0" y1="1428" x2="529.0" y2="1452" stroke="#111" stroke-width="4" />
<line x1="734.5" y1="1428" x2="734.5" y2="1452" stroke="#111" stroke-width="4" />
<line x1="1070.4" y1="1428" x2="1070.4" y2="1452" stroke="#111" stroke-width="4" />
<line x1="1275.9" y1="1428" x2="1275.9" y2="1452" stroke="#111" stroke-width="4" />
<line x1="1481.3" y1="1428" x2="1481.3" y2="1452" stroke="#111" stroke-width="4" />
<line x1="1686.8" y1="1428" x2="1686.8" y2="1452" stroke="#111" stroke-width="4" />
<line x1="1892.2" y1="1428" x2="1892.2" y2="1452" stroke="#111" stroke-width="4" />
<line x1="426.3" y1="1428" x2="426.3" y2="1440" stroke="#111" stroke-width="4" />
<line x1="631.7" y1="1428" x2="631.7" y2="1440" stroke="#111" stroke-width="4" />
<line x1="837.2" y1="1428" x2="837.2" y2="1440" stroke="#111" stroke-width="4" />
<line x1="967.7" y1="1428" x2="967.7" y2="1440" stroke="#111" stroke-width="4" />
<line x1="1173.1" y1="1428" x2="1173.1" y2="1440" stroke="#111" stroke-width="4" />
<line x1="1378.6" y1="1428" x2="1378.6" y2="1440" stroke="#111" stroke-width="4" />
<line x1="1584.0" y1="1428" x2="1584.0" y2="1440" stroke="#111" stroke-width="4" />
<line x1="1789.5" y1="1428" x2="1789.5" y2="1440" stroke="#111" stroke-width="4" />
<line x1="1994.9" y1="1428" x2="1994.9" y2="1440" stroke="#111" stroke-width="4" />
<line x1="886" y1="191" x2="913" y2="142.5" stroke="#222" stroke-width="3" />
<line x1="914" y1="191" x2="940" y2="142.5" stroke="#222" stroke-width="3" />
<line x1="886" y1="1451" x2="912.3" y2="1401.8" stroke="#222" stroke-width="3" />
<line x1="913.8" y1="1451" x2="939.5" y2="1402.8" stroke="#222" stroke-width="3" />
<text x="529.0" y="1518.5" font-size="65" text-anchor="middle" style="font-weight:normal" stroke="#000" stroke-width="2.6">1400</text>
<text x="734.5" y="1518.5" font-size="65" text-anchor="middle" style="font-weight:normal" stroke="#000" stroke-width="2.6">1500</text>
<text x="1070.4" y="1518.5" font-size="65" text-anchor="middle" style="font-weight:normal" stroke="#000" stroke-width="2.6">1700</text>
<text x="1275.9" y="1518.5" font-size="65" text-anchor="middle" style="font-weight:normal" stroke="#000" stroke-width="2.6">1800</text>
<text x="1481.3" y="1518.5" font-size="65" text-anchor="middle" style="font-weight:normal" stroke="#000" stroke-width="2.6">1900</text>
<text x="1686.8" y="1518.5" font-size="65" text-anchor="middle" style="font-weight:normal" stroke="#000" stroke-width="2.6">2000</text>
<text x="1892.2" y="1518.5" font-size="65" text-anchor="middle" style="font-weight:normal" stroke="#000" stroke-width="2.6">2100</text>
<text x="955.6" y="1659.4" font-size="116" style="font-family:'Noto Serif CJK SC','Liberation Serif',serif;font-weight:bold" fill="#000">λ</text>
<text transform="translate(1030.0,1659.0) scale(0.9916,1.0000)" x="-1.4" y="0" font-size="146">/nm</text>
<text transform="translate(1324.1,1682.2) scale(1.0000,1.0300)" x="0" y="0" font-size="142.7" style="font-family:'Noto Sans CJK SC','Liberation Sans',sans-serif;font-weight:normal" fill="#000">→</text>
<text transform="translate(372.6,1218.4) rotate(-90) scale(1.0000,1)" x="-9.7" y="0" font-size="145">Intensity (a.u)</text>
<rect x="468.5" y="269.5" width="130.5" height="30.5" fill="#000"/>
<rect x="468" y="355.5" width="129" height="30.5" fill="#858585"/>
<text transform="translate(632.0,315.4) scale(0.9541,1.0000)" x="-3.6" y="0" font-size="87">CA</text>
<text transform="translate(632.0,406.0) scale(0.9430,1.0000)" x="-5.8" y="0" font-size="87" fill="#878787">MW</text>
<text transform="translate(449.2,1128.8) scale(0.8935,1.0000)" x="-1.6" y="0" font-size="68">3</text>
<text transform="translate(486.7,1158.0) scale(0.9015,1.0000)" x="-4.7" y="0" font-size="70">H</text>
<text transform="translate(531.6,1175.3) scale(0.9041,1.0000)" x="-1.1" y="0" font-size="70">4</text>
<text transform="translate(634.4,1128.8) scale(0.8935,1.0000)" x="-1.6" y="0" font-size="68">3</text>
<text transform="translate(675.8,1158.0) scale(0.9123,1.0000)" x="-4.7" y="0" font-size="70">F</text>
<text transform="translate(713.6,1175.3) scale(0.8401,1.0000)" x="-1.1" y="0" font-size="70">4</text>
<text transform="translate(767.6,1158.5) scale(0.7289,1.0000)" x="-3.5" y="0" font-size="70">(</text>
<text transform="translate(791.0,1158.0) scale(0.8733,1.0000)" x="-0.8" y="0" font-size="70">T</text>
<text transform="translate(830.6,1158.0) scale(0.9458,1.0000)" x="-4.6" y="0" font-size="70">m</text>
<text transform="translate(888.0,1137.5) scale(1.1243,1.0000)" x="-2.3" y="0" font-size="61" style="font-weight:normal" stroke="#000" stroke-width="2.2">3+</text>
<text transform="translate(965.6,1158.5) scale(0.8200,1.0000)" x="-0.1" y="0" font-size="70">)</text>
<text transform="translate(993.2,470.5) scale(0.8935,1.0000)" x="-1.6" y="0" font-size="68">3</text>
<text transform="translate(1030.8,497.7) scale(0.9236,1.0000)" x="-4.7" y="0" font-size="70">F</text>
<text transform="translate(1067.6,515.5) scale(0.8961,1.0000)" x="-1.1" y="0" font-size="70">4</text>
<text transform="translate(1207.8,471.5) scale(0.8935,1.0000)" x="-1.6" y="0" font-size="68">3</text>
<text transform="translate(1244.9,498.3) scale(0.9137,1.0000)" x="-4.7" y="0" font-size="70">H</text>
<text transform="translate(1291.6,514.7) scale(0.9486,1.0000)" x="-2.6" y="0" font-size="70">6</text>
<text transform="translate(1347.0,498.5) scale(0.7998,1.0000)" x="-3.5" y="0" font-size="70">(</text>
<text transform="translate(1368.7,498.0) scale(0.9534,1.0000)" x="-0.8" y="0" font-size="70">T</text>
<text transform="translate(1411.9,498.0) scale(0.9590,1.0000)" x="-4.6" y="0" font-size="70">m</text>
<text transform="translate(1466.8,481.0) scale(1.1010,1.0000)" x="-2.3" y="0" font-size="61" style="font-weight:normal" stroke="#000" stroke-width="2.2">3+</text>
<text transform="translate(1541.4,498.5) scale(0.8909,1.0000)" x="-0.1" y="0" font-size="70">)</text>
<text transform="translate(1444.9,269.4) scale(0.8601,1.0000)" x="-2.1" y="0" font-size="68">5</text>
<text x="1478.2" y="295.8" font-size="70">I</text>
<text transform="translate(1499.6,313.8) scale(0.9346,1.0000)" x="-3.0" y="0" font-size="70">7</text>
<text transform="translate(1638.8,269.4) scale(0.8601,1.0000)" x="-2.1" y="0" font-size="68">5</text>
<text x="1670.1" y="295.8" font-size="70">I</text>
<text transform="translate(1689.2,313.4) scale(0.9376,1.0000)" x="-2.2" y="0" font-size="70">8</text>
<text transform="translate(1746.8,296.5) scale(0.7289,1.0000)" x="-3.5" y="0" font-size="70">(</text>
<text transform="translate(1768.4,295.8) scale(0.9185,1.0000)" x="-4.7" y="0" font-size="70">H</text>
<text transform="translate(1817.0,295.2) scale(0.8206,1.0000)" x="-2.7" y="0" font-size="70">o</text>
<text transform="translate(1854.8,277.5) scale(1.0651,1.0000)" x="-2.3" y="0" font-size="61" style="font-weight:normal" stroke="#000" stroke-width="2.2">3+</text>
<text transform="translate(1930.4,296.5) scale(0.7289,1.0000)" x="-0.1" y="0" font-size="70">)</text>
<text x="568.7" y="1168.1" font-size="66.7" style="font-family:'Noto Sans CJK SC','Liberation Sans',sans-serif;font-weight:normal" fill="#000">→</text>
<text x="1120.6" y="506.5" font-size="66.4" style="font-family:'Noto Sans CJK SC','Liberation Sans',sans-serif;font-weight:normal" fill="#000">→</text>
<text x="1551.5" y="305.1" font-size="66.7" style="font-family:'Noto Sans CJK SC','Liberation Sans',sans-serif;font-weight:normal" fill="#000">→</text>
<text x="44.7" y="1785.8" font-size="166">(b)</text>
<rect x="441" y="1835" width="13" height="1307" fill="#000"/>
<path d="M447.4,1753 L501,1852 Q502,1860 494,1857 L447.4,1838 L401,1857 Q393,1860 395,1852 Z" fill="#000"/>
<rect x="421" y="3090.0" width="22" height="13" fill="#000"/>
<rect x="421" y="2932.6" width="22" height="13" fill="#000"/>
<rect x="421" y="2775.1" width="22" height="13" fill="#000"/>
<rect x="421" y="2617.7" width="22" height="13" fill="#000"/>
<rect x="421" y="2460.3" width="22" height="13" fill="#000"/>
<rect x="421" y="2302.9" width="22" height="13" fill="#000"/>
<rect x="421" y="2145.4" width="22" height="13" fill="#000"/>
<rect x="421" y="1988.0" width="22" height="13" fill="#000"/>
<text x="395" y="3108.3" font-size="65" text-anchor="end" style="font-weight:normal" stroke="#000" stroke-width="2.6">0</text>
<text x="395" y="2950.9" font-size="65" text-anchor="end" style="font-weight:normal" stroke="#000" stroke-width="2.6">2</text>
<text x="395" y="2793.4" font-size="65" text-anchor="end" style="font-weight:normal" stroke="#000" stroke-width="2.6">4</text>
<text x="395" y="2636.0" font-size="65" text-anchor="end" style="font-weight:normal" stroke="#000" stroke-width="2.6">6</text>
<text x="395" y="2478.6" font-size="65" text-anchor="end" style="font-weight:normal" stroke="#000" stroke-width="2.6">8</text>
<text x="395" y="2321.2" font-size="65" text-anchor="end" style="font-weight:normal" stroke="#000" stroke-width="2.6">10</text>
<text x="395" y="2163.7" font-size="65" text-anchor="end" style="font-weight:normal" stroke="#000" stroke-width="2.6">12</text>
<text x="395" y="2006.3" font-size="65" text-anchor="end" style="font-weight:normal" stroke="#000" stroke-width="2.6">14</text>
<text x="395" y="1848.9" font-size="65" text-anchor="end" style="font-weight:normal" stroke="#000" stroke-width="2.6">16</text>
<text transform="translate(290.0,2945.4) rotate(-90) scale(1.0287,1)" x="-8.2" y="0" font-size="122">Energy</text>
<text transform="translate(290.0,2488.0) rotate(-90) scale(0.8335,1)" x="-6.1" y="0" font-size="122">(</text>
<text transform="translate(288.5,2444.0) rotate(-90) scale(0.9166,1)" x="-9.3" y="0" font-size="122" style="font-weight:normal" stroke="#000" stroke-width="4.5">10</text>
<text transform="translate(241.0,2319.8) rotate(-90) scale(0.9199,1)" x="-3.2" y="0" font-size="83" style="font-weight:normal" stroke="#000" stroke-width="1.5">3</text>
<text transform="translate(290.0,2244.1) rotate(-90) scale(0.9573,1)" x="-4.8" y="0" font-size="122">cm</text>
<text transform="translate(241.7,2076.5) rotate(-90) scale(1.0981,1)" x="-3.3" y="0" font-size="85">-</text>
<text transform="translate(241.7,2047.2) rotate(-90) scale(0.6927,1)" x="-5.4" y="0" font-size="85">1</text>
<text transform="translate(290.0,2003.6) rotate(-90) scale(0.7958,1)" x="-0.1" y="0" font-size="122">)</text>
<path d="M688,1900.5 H1130.5 A7.5,7.5 0 0 1 1130.5,1915.5 H688 Z" fill="#000"/>
<path d="M688,1948.1 H1130.5 A7.5,7.5 0 0 1 1130.5,1963.1 H688 Z" fill="#000"/>
<path d="M688,2097.0 H1130.5 A7.5,7.5 0 0 1 1130.5,2112.0 H688 Z" fill="#000"/>
<path d="M688,2445.0 H1130.5 A7.5,7.5 0 0 1 1130.5,2460.0 H688 Z" fill="#000"/>
<path d="M688,2650.0 H1130.5 A7.5,7.5 0 0 1 1130.5,2665.0 H688 Z" fill="#000"/>
<path d="M688,3089.5 H1130.5 A7.5,7.5 0 0 1 1130.5,3104.5 H688 Z" fill="#000"/>
<path d="M1407.5,2042.5 H1882.5 A7.5,7.5 0 0 1 1882.5,2057.5 H1407.5 Z" fill="#000"/>
<path d="M1407.5,2197.5 H1882.5 A7.5,7.5 0 0 1 1882.5,2212.5 H1407.5 Z" fill="#000"/>
<path d="M1407.5,2400.1 H1882.5 A7.5,7.5 0 0 1 1882.5,2415.1 H1407.5 Z" fill="#000"/>
<path d="M1407.5,2673.0 H1882.5 A7.5,7.5 0 0 1 1882.5,2688.0 H1407.5 Z" fill="#000"/>
<path d="M1407.5,3070.0 H1882.5 A7.5,7.5 0 0 1 1882.5,3085.0 H1407.5 Z" fill="#000"/>
<text x="527.0" y="1931.5" font-size="45">3</text>
<text x="549.0" y="1964.2" font-size="74">F</text>
<text x="593.4" y="1979.0" font-size="45">2,3</text>
<text x="568.0" y="2108.5" font-size="45">3</text>
<text x="594.4" y="2141.3" font-size="74">H</text>
<text x="646.2" y="2158.6" font-size="45">4</text>
<text x="596.3" y="2475.0" font-size="45">3</text>
<text x="623.7" y="2506.7" font-size="74">H</text>
<text x="676.4" y="2524.0" font-size="45">5</text>
<text x="596.0" y="2691.0" font-size="45">3</text>
<text x="621.7" y="2718.8" font-size="74">F</text>
<text x="665.3" y="2738.4" font-size="45">4</text>
<text x="594.0" y="3097.0" font-size="45">3</text>
<text x="620.1" y="3127.3" font-size="74">H</text>
<text x="671.7" y="3146.5" font-size="45">6</text>
<text x="1902.5" y="2037.0" font-size="45">5</text>
<text x="1926.2" y="2067.0" font-size="74">I</text>
<text x="1946.5" y="2089.8" font-size="45">4</text>
<text x="1911.6" y="2210.2" font-size="45">5</text>
<text x="1935.4" y="2238.0" font-size="74">I</text>
<text x="1957.2" y="2260.3" font-size="45">5</text>
<text x="1893.4" y="2410.6" font-size="45">5</text>
<text x="1919.4" y="2440.7" font-size="74">I</text>
<text x="1941.0" y="2460.8" font-size="45">6</text>
<text x="1904.0" y="2691.0" font-size="45">5</text>
<text x="1928.5" y="2725.8" font-size="74">I</text>
<text x="1950.4" y="2741.5" font-size="45">7</text>
<text x="1893.4" y="3057.6" font-size="45">5</text>
<text x="1917.0" y="3085.5" font-size="74">I</text>
<text x="1936.6" y="3105.6" font-size="45">8</text>
<rect x="727" y="2150" width="9.5" height="921" fill="#000"/>
<path d="M731.2,2111.5 L757.8,2166 L731.2,2154 L703.6,2166 Z" fill="#000" stroke="#000" stroke-width="3" stroke-linejoin="round"/>
<rect x="851.1" y="2106" width="12.5" height="495" fill="#F2B02C"/>
<path d="M858.4,2637 L821.5,2571.6 L857.4,2597 L893.5,2569.6 Z" fill="#F2B02C" stroke="#F2B02C" stroke-width="6" stroke-linejoin="round"/>
<rect x="1062.0" y="2664" width="12" height="371" fill="#3EC572"/>
<path d="M1067.2,3088 L1030.5,3016.4 L1068,3031 L1104,3014.7 Z" fill="#3EC572" stroke="#3EC572" stroke-width="6" stroke-linejoin="round"/>
<rect x="1638.0" y="2696" width="12" height="316" fill="#8B6802"/>
<path d="M1642,3062 L1605.5,2991.8 L1644,3008 L1678.5,2989.5 Z" fill="#8B6802" stroke="#8B6802" stroke-width="6" stroke-linejoin="round"/>
<text transform="translate(822.0,2417.0) rotate(-90) scale(0.9911,1)" x="-5.6" y="0" font-size="74" style="font-weight:normal" fill="#F2B02C" stroke="#F2B02C" stroke-width="2.6">1450 nm</text>
<text transform="translate(720.0,3000.8) rotate(-90) scale(0.9419,1)" x="-2.4" y="0" font-size="76">808 nm</text>
<text transform="translate(1142.7,2999.8) rotate(-90) scale(0.9731,1)" x="-5.8" y="0" font-size="76" style="font-weight:normal" fill="#3EC572" stroke="#3EC572" stroke-width="2.7">1800 nm</text>
<text transform="translate(1711.6,2975.0) rotate(-90) scale(0.9947,1)" x="-5.6" y="0" font-size="74" style="font-weight:normal" fill="#8B6802" stroke="#8B6802" stroke-width="2.6">1960 nm</text>
<text transform="translate(956.9,2338.0) rotate(-90) scale(0.9623,1)" x="-2.5" y="0" font-size="62">CR</text>
<text transform="translate(958.2,2815.3) rotate(-90) scale(0.9926,1)" x="-2.5" y="0" font-size="62">CR</text>
<line x1="977.2" y1="2120" x2="977.2" y2="2640" stroke="#444" stroke-width="3.5" stroke-dasharray="4.5,2.5"/>
<line x1="977.2" y1="2680" x2="977.2" y2="3085" stroke="#444" stroke-width="3.5" stroke-dasharray="4.5,2.5"/>
<path d="M976.2,2648 L960.5,2624.5 L976.2,2636 L993.8,2624.5 Z" fill="#000" stroke="#000" stroke-width="3" stroke-linejoin="round"/>
<path d="M976.2,2673.6 L960.5,2709 L976.2,2701 L995.8,2709 Z" fill="#000" stroke="#000" stroke-width="3" stroke-linejoin="round"/>
<path d="M1077.7,2106 C1077.7,2113.4 1043,2124.9 1043,2132.3 C1043,2140.6 1079.5,2153.7 1079.5,2162.0 C1079.5,2170.3 1043,2183.3 1043,2191.6 C1043,2199.9 1079.5,2212.9 1079.5,2221.2 C1079.5,2229.5 1043,2242.6 1043,2250.9 C1043,2258.7 1079.5,2271.0 1079.5,2278.8 C1079.5,2286.6 1043,2298.9 1043,2306.7 C1043,2315.0 1079.5,2328.0 1079.5,2336.3 C1079.5,2343.6 1043,2355.2 1043,2362.5 C1043,2365.7 1054,2370.8 1054,2374.0" fill="none" stroke="#222" stroke-width="4"/>
<polygon points="1028.0,2388.6 1075.1,2362.5 1078.6,2424.4" fill="#2a2a2a" />
<path d="M1074.7,2451 C1074.7,2455.5 1049.3,2462.5 1049.3,2467.0 C1049.3,2472.3 1077.7,2480.7 1077.7,2486.0 C1077.7,2490.5 1049.3,2497.5 1049.3,2502.0 C1049.3,2506.9 1077.7,2514.6 1077.7,2519.5 C1077.7,2524.4 1049.3,2532.1 1049.3,2537.0 C1049.3,2541.8 1077.7,2549.5 1077.7,2554.3 C1077.7,2559.3 1049.3,2567.0 1049.3,2572.0 C1049.3,2576.8 1077.7,2584.4 1077.7,2589.2 C1077.7,2594.1 1049.3,2601.7 1049.3,2606.6 C1049.3,2608.4 1056,2611.2 1056,2613.0" fill="none" stroke="#222" stroke-width="3.5"/>
<polygon points="1037.4,2620.2 1076.0,2604.0 1077.2,2640.1" fill="#2a2a2a" />
<line x1="1170" y1="2655" x2="1357" y2="2677.5" stroke="#111" stroke-width="3.2"/>
<path d="M1146.8,2653.8 L1186.6,2638.9 L1174.2,2655 L1182.9,2675 Z" fill="#000" stroke="#000" stroke-width="2" stroke-linejoin="round"/>
<path d="M1380.6,2678.7 L1348.3,2660 L1353.2,2677.5 L1343.3,2693.6 Z" fill="#000" stroke="#000" stroke-width="2" stroke-linejoin="round"/>
<text transform="translate(1223.9,2642.6) scale(0.9966,1.0000)" x="-3.5" y="0" font-size="52">ET</text>
<text transform="translate(1212.7,2722.2) scale(1.0092,1.0000)" x="-3.3" y="0" font-size="50">BET</text>
<text transform="translate(779.6,3230.5) scale(0.9651,1.0000)" x="-1.4" y="0" font-size="126">Tm</text>
<text transform="translate(965.0,3201.0) scale(1.0080,1.0000)" x="-3.2" y="0" font-size="85" style="font-weight:normal" stroke="#000" stroke-width="1.5">3+</text>
<text transform="translate(1543.5,3223.7) scale(0.9623,1.0000)" x="-8.7" y="0" font-size="130">Ho</text>
<text transform="translate(1703.8,3193.4) scale(1.0114,1.0000)" x="-3.2" y="0" font-size="85" style="font-weight:normal" stroke="#000" stroke-width="1.5">3+</text>
</svg>
</body></html>
